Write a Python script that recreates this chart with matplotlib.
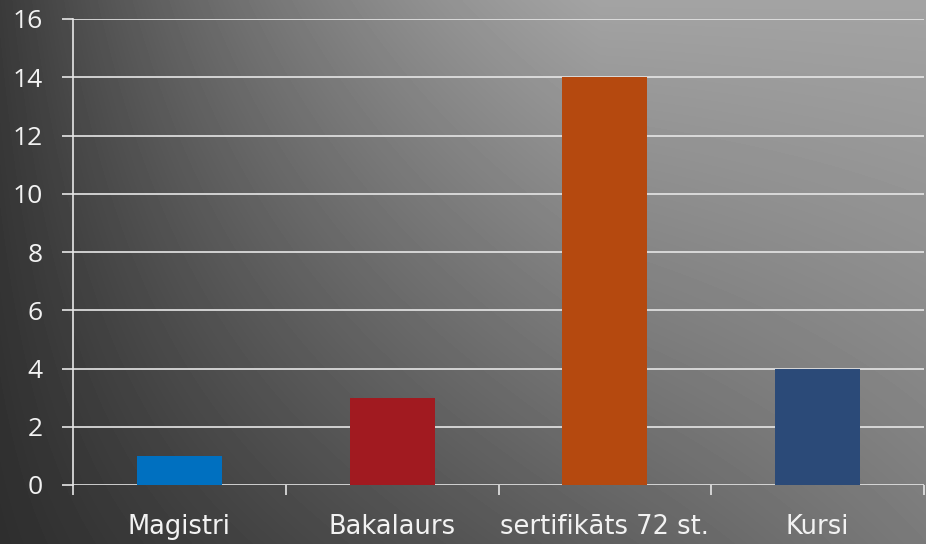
import numpy as np
from matplotlib import pyplot as plt

categories = ["Magistri", "Bakalaurs", "sertifikāts 72 st.", "Kursi"]
values = [1, 3, 14, 4]
colors = ["#0070c0", "#a11a20", "#b5490f", "#2b4a78"]
y_ticks = [0, 2, 4, 6, 8, 10, 12, 14, 16]

plt.rcParams["font.family"] = ["Open Sans", "DejaVu Sans"]

W, H = 926, 544
fig = plt.figure(figsize=(W / 100, H / 100), dpi=100)

# grey gradient behind everything: dark left, light top right
yy, xx = np.mgrid[0:H, 0:W]
t = np.clip(xx / 600.0, 0, 1)
top = 0.23 + 0.41 * 0.5 * (t + t * (2 - t))
bottom = 0.18 + 0.30 * xx / W
v = yy / (H - 1)
shade = top * (1 - v) + bottom * v
bg_ax = fig.add_axes([0, 0, 1, 1], zorder=-1)
bg_ax.imshow(shade, cmap="gray", vmin=0, vmax=1, aspect="auto")
bg_ax.axis("off")

ax = fig.add_axes([73 / W, 1 - 485 / H, (924 - 73) / W, (485 - 19) / H])
ax.patch.set_visible(False)

x = np.arange(len(categories))
ax.bar(x, values, width=0.4, color=colors, zorder=3)

line_col = "#e6e6e6"
ax.set_xlim(-0.5, len(categories) - 0.5)
ax.set_ylim(0, 16)
ax.set_yticks(y_ticks)
for tk in y_ticks:
    ax.axhline(tk, color=line_col, linewidth=1.2, zorder=1)

ax.set_xticks(np.arange(-0.5, len(categories), 1.0))
ax.set_xticklabels([])
ax.set_xticks(x, minor=True)
ax.set_xticklabels(categories, minor=True, family=["DejaVu Sans"])

for side in ["top", "right", "bottom"]:
    ax.spines[side].set_visible(False)
ax.spines["left"].set_color(line_col)
ax.spines["left"].set_linewidth(1.2)

ax.tick_params(axis="y", colors=line_col, length=8, width=1.2, pad=14,
               labelsize=19, labelcolor="#f2f2f2")
ax.tick_params(axis="x", which="major", colors=line_col, length=7, width=1.2)
ax.tick_params(axis="x", which="minor", length=0, pad=21,
               labelsize=18.5, labelcolor="#f2f2f2")

fig.savefig("out.png", dpi=100)
